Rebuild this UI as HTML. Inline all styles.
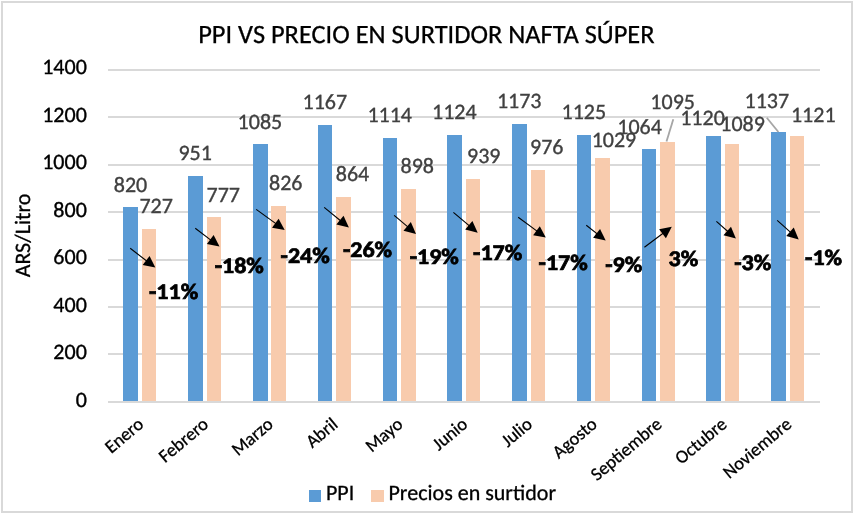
<!DOCTYPE html><html><head><meta charset="utf-8"><style>html,body{margin:0;padding:0;background:#fff;}svg{display:block;will-change:transform;}text{font-family:Carlito, 'Liberation Sans', Arial, sans-serif;text-rendering:geometricPrecision;}.dl{fill:#404040;stroke:#404040;stroke-width:0.35px;}.tk{fill:#000;stroke:#000;stroke-width:0.35px;}.bk{fill:#000;stroke:#000;stroke-width:0.3px;}</style></head><body>
<svg width="854" height="514" viewBox="0 0 854 514">
<rect x="0" y="0" width="854" height="514" fill="#fff"/>
<rect x="2" y="2" width="850" height="510" fill="none" stroke="#d9d9d9" stroke-width="2"/>
<rect x="108" y="69" width="712" height="2" fill="#d9d9d9"/>
<rect x="108" y="116" width="712" height="2" fill="#d9d9d9"/>
<rect x="108" y="164" width="712" height="2" fill="#d9d9d9"/>
<rect x="108" y="211" width="712" height="2" fill="#d9d9d9"/>
<rect x="108" y="259" width="712" height="2" fill="#d9d9d9"/>
<rect x="108" y="306" width="712" height="2" fill="#d9d9d9"/>
<rect x="108" y="353" width="712" height="2" fill="#d9d9d9"/>
<rect x="108" y="401" width="712" height="2" fill="#d9d9d9"/>
<rect x="123" y="207" width="15" height="194" fill="#5b9bd5"/>
<rect x="142" y="229" width="14" height="172" fill="#f8cbad"/>
<rect x="188" y="176" width="15" height="225" fill="#5b9bd5"/>
<rect x="207" y="217" width="14" height="184" fill="#f8cbad"/>
<rect x="253" y="144" width="15" height="257" fill="#5b9bd5"/>
<rect x="271" y="206" width="15" height="195" fill="#f8cbad"/>
<rect x="318" y="125" width="14" height="276" fill="#5b9bd5"/>
<rect x="336" y="197" width="15" height="204" fill="#f8cbad"/>
<rect x="383" y="138" width="14" height="263" fill="#5b9bd5"/>
<rect x="401" y="189" width="15" height="212" fill="#f8cbad"/>
<rect x="447" y="135" width="15" height="266" fill="#5b9bd5"/>
<rect x="466" y="179" width="14" height="222" fill="#f8cbad"/>
<rect x="512" y="124" width="15" height="277" fill="#5b9bd5"/>
<rect x="531" y="170" width="14" height="231" fill="#f8cbad"/>
<rect x="577" y="135" width="14" height="266" fill="#5b9bd5"/>
<rect x="595" y="158" width="15" height="243" fill="#f8cbad"/>
<rect x="642" y="149" width="14" height="252" fill="#5b9bd5"/>
<rect x="660" y="142" width="15" height="259" fill="#f8cbad"/>
<rect x="706" y="136" width="15" height="265" fill="#5b9bd5"/>
<rect x="725" y="144" width="14" height="257" fill="#f8cbad"/>
<rect x="771" y="132" width="15" height="269" fill="#5b9bd5"/>
<rect x="790" y="136" width="14" height="265" fill="#f8cbad"/>
<text transform="translate(86.8,74) scale(1.0,1.0)" font-size="22" text-anchor="end" class="tk" textLength="44.61" lengthAdjust="spacingAndGlyphs">1400</text>
<text transform="translate(86.8,122) scale(1.0,1.0)" font-size="22" text-anchor="end" class="tk" textLength="44.61" lengthAdjust="spacingAndGlyphs">1200</text>
<text transform="translate(86.8,169) scale(1.0,1.0)" font-size="22" text-anchor="end" class="tk" textLength="44.61" lengthAdjust="spacingAndGlyphs">1000</text>
<text transform="translate(86.8,217) scale(1.0,1.0)" font-size="22" text-anchor="end" class="tk" textLength="33.45" lengthAdjust="spacingAndGlyphs">800</text>
<text transform="translate(86.8,264) scale(1.0,1.0)" font-size="22" text-anchor="end" class="tk" textLength="33.45" lengthAdjust="spacingAndGlyphs">600</text>
<text transform="translate(86.8,311.5) scale(1.0,1.0)" font-size="22" text-anchor="end" class="tk" textLength="33.45" lengthAdjust="spacingAndGlyphs">400</text>
<text transform="translate(86.8,359) scale(1.0,1.0)" font-size="22" text-anchor="end" class="tk" textLength="33.45" lengthAdjust="spacingAndGlyphs">200</text>
<text transform="translate(86.8,407) scale(1.0,1.0)" font-size="22" text-anchor="end" class="tk" textLength="11.16" lengthAdjust="spacingAndGlyphs">0</text>
<text transform="translate(30,235.5) rotate(-90)" font-size="22" text-anchor="middle" class="bk" textLength="83.58" lengthAdjust="spacingAndGlyphs">ARS/Litro</text>
<text x="198.2" y="42.7" font-size="26.4" class="bk" textLength="456.41" lengthAdjust="spacingAndGlyphs">PPI VS PRECIO EN SURTIDOR NAFTA SÚPER</text>
<text transform="translate(144.70,426) rotate(-40)" font-size="18.4" text-anchor="end" class="bk" textLength="43.61" lengthAdjust="spacingAndGlyphs">Enero</text>
<text transform="translate(209.50,426) rotate(-40)" font-size="18.4" text-anchor="end" class="bk" textLength="58.14" lengthAdjust="spacingAndGlyphs">Febrero</text>
<text transform="translate(274.30,426) rotate(-40)" font-size="18.4" text-anchor="end" class="bk" textLength="47.52" lengthAdjust="spacingAndGlyphs">Marzo</text>
<text transform="translate(339.10,426) rotate(-40)" font-size="18.4" text-anchor="end" class="bk" textLength="35.16" lengthAdjust="spacingAndGlyphs">Abril</text>
<text transform="translate(403.90,426) rotate(-40)" font-size="18.4" text-anchor="end" class="bk" textLength="42.00" lengthAdjust="spacingAndGlyphs">Mayo</text>
<text transform="translate(468.70,426) rotate(-40)" font-size="18.4" text-anchor="end" class="bk" textLength="39.11" lengthAdjust="spacingAndGlyphs">Junio</text>
<text transform="translate(533.50,426) rotate(-40)" font-size="18.4" text-anchor="end" class="bk" textLength="33.67" lengthAdjust="spacingAndGlyphs">Julio</text>
<text transform="translate(598.30,426) rotate(-40)" font-size="18.4" text-anchor="end" class="bk" textLength="51.55" lengthAdjust="spacingAndGlyphs">Agosto</text>
<text transform="translate(663.10,426) rotate(-40)" font-size="18.4" text-anchor="end" class="bk" textLength="86.27" lengthAdjust="spacingAndGlyphs">Septiembre</text>
<text transform="translate(727.90,426) rotate(-40)" font-size="18.4" text-anchor="end" class="bk" textLength="60.77" lengthAdjust="spacingAndGlyphs">Octubre</text>
<text transform="translate(792.70,426) rotate(-40)" font-size="18.4" text-anchor="end" class="bk" textLength="82.84" lengthAdjust="spacingAndGlyphs">Noviembre</text>
<text transform="translate(130.45,192.2) scale(1.0,1.0)" font-size="22" text-anchor="middle" class="dl" textLength="33.45" lengthAdjust="spacingAndGlyphs">820</text>
<text transform="translate(156.1,212.8) scale(1.0,1.0)" font-size="22" text-anchor="middle" class="dl" textLength="33.45" lengthAdjust="spacingAndGlyphs">727</text>
<text transform="translate(195.1,160.2) scale(1.0,1.0)" font-size="22" text-anchor="middle" class="dl" textLength="33.45" lengthAdjust="spacingAndGlyphs">951</text>
<text transform="translate(223.2,201.6) scale(1.0,1.0)" font-size="22" text-anchor="middle" class="dl" textLength="33.45" lengthAdjust="spacingAndGlyphs">777</text>
<text transform="translate(259.9,129.1) scale(1.0,1.0)" font-size="22" text-anchor="middle" class="dl" textLength="44.61" lengthAdjust="spacingAndGlyphs">1085</text>
<text transform="translate(285.7,190) scale(1.0,1.0)" font-size="22" text-anchor="middle" class="dl" textLength="33.45" lengthAdjust="spacingAndGlyphs">826</text>
<text transform="translate(324.85,109.3) scale(1.0,1.0)" font-size="22" text-anchor="middle" class="dl" textLength="44.61" lengthAdjust="spacingAndGlyphs">1167</text>
<text transform="translate(352.45,181.1) scale(1.0,1.0)" font-size="22" text-anchor="middle" class="dl" textLength="33.45" lengthAdjust="spacingAndGlyphs">864</text>
<text transform="translate(389.7,122) scale(1.0,1.0)" font-size="22" text-anchor="middle" class="dl" textLength="44.61" lengthAdjust="spacingAndGlyphs">1114</text>
<text transform="translate(417.2,172.9) scale(1.0,1.0)" font-size="22" text-anchor="middle" class="dl" textLength="33.45" lengthAdjust="spacingAndGlyphs">898</text>
<text transform="translate(454.35,119.2) scale(1.0,1.0)" font-size="22" text-anchor="middle" class="dl" textLength="44.61" lengthAdjust="spacingAndGlyphs">1124</text>
<text transform="translate(483.7,162.9) scale(1.0,1.0)" font-size="22" text-anchor="middle" class="dl" textLength="33.45" lengthAdjust="spacingAndGlyphs">939</text>
<text transform="translate(519.2,108.2) scale(1.0,1.0)" font-size="22" text-anchor="middle" class="dl" textLength="44.61" lengthAdjust="spacingAndGlyphs">1173</text>
<text transform="translate(546.75,153.8) scale(1.0,1.0)" font-size="22" text-anchor="middle" class="dl" textLength="33.45" lengthAdjust="spacingAndGlyphs">976</text>
<text transform="translate(583.85,118.8) scale(1.0,1.0)" font-size="22" text-anchor="middle" class="dl" textLength="44.61" lengthAdjust="spacingAndGlyphs">1125</text>
<text transform="translate(613.95,147) scale(1.0,1.0)" font-size="22" text-anchor="middle" class="dl" textLength="44.61" lengthAdjust="spacingAndGlyphs">1029</text>
<text transform="translate(639.55,133.8) scale(1.0,1.0)" font-size="22" text-anchor="middle" class="dl" textLength="44.61" lengthAdjust="spacingAndGlyphs">1064</text>
<text transform="translate(672.65,109.3) scale(1.0,1.0)" font-size="22" text-anchor="middle" class="dl" textLength="44.61" lengthAdjust="spacingAndGlyphs">1095</text>
<text transform="translate(702.5,125.0) scale(1.0,1.0)" font-size="22" text-anchor="middle" class="dl" textLength="44.61" lengthAdjust="spacingAndGlyphs">1120</text>
<text transform="translate(742.6,130.6) scale(1.0,1.0)" font-size="22" text-anchor="middle" class="dl" textLength="44.61" lengthAdjust="spacingAndGlyphs">1089</text>
<text transform="translate(766.8,107.9) scale(1.0,1.0)" font-size="22" text-anchor="middle" class="dl" textLength="44.61" lengthAdjust="spacingAndGlyphs">1137</text>
<text transform="translate(813.25,122) scale(1.0,1.0)" font-size="22" text-anchor="middle" class="dl" textLength="44.61" lengthAdjust="spacingAndGlyphs">1121</text>
<line x1="673.3" y1="119.3" x2="666.5" y2="141.5" stroke="#a6a6a6" stroke-width="1.8"/>
<line x1="766.8" y1="117.7" x2="778.4" y2="132" stroke="#a6a6a6" stroke-width="1.8"/>
<text transform="translate(149.0,299.30) scale(1,0.93)" font-size="24" font-weight="bold" fill="#000" stroke="#000" stroke-width="0.8" textLength="49.17" lengthAdjust="spacingAndGlyphs">-11%</text>
<text transform="translate(214.7,273.20) scale(1,0.93)" font-size="24" font-weight="bold" fill="#000" stroke="#000" stroke-width="0.8" textLength="49.17" lengthAdjust="spacingAndGlyphs">-18%</text>
<text transform="translate(280.6,263.30) scale(1,0.93)" font-size="24" font-weight="bold" fill="#000" stroke="#000" stroke-width="0.8" textLength="49.17" lengthAdjust="spacingAndGlyphs">-24%</text>
<text transform="translate(342.9,256.80) scale(1,0.93)" font-size="24" font-weight="bold" fill="#000" stroke="#000" stroke-width="0.8" textLength="49.17" lengthAdjust="spacingAndGlyphs">-26%</text>
<text transform="translate(409.7,263.60) scale(1,0.93)" font-size="24" font-weight="bold" fill="#000" stroke="#000" stroke-width="0.8" textLength="49.17" lengthAdjust="spacingAndGlyphs">-19%</text>
<text transform="translate(473.1,260.20) scale(1,0.93)" font-size="24" font-weight="bold" fill="#000" stroke="#000" stroke-width="0.8" textLength="49.17" lengthAdjust="spacingAndGlyphs">-17%</text>
<text transform="translate(538.6,269.50) scale(1,0.93)" font-size="24" font-weight="bold" fill="#000" stroke="#000" stroke-width="0.8" textLength="49.17" lengthAdjust="spacingAndGlyphs">-17%</text>
<text transform="translate(605.2,272.30) scale(1,0.93)" font-size="24" font-weight="bold" fill="#000" stroke="#000" stroke-width="0.8" textLength="37.02" lengthAdjust="spacingAndGlyphs">-9%</text>
<text transform="translate(668.6,266.40) scale(1,0.93)" font-size="24" font-weight="bold" fill="#000" stroke="#000" stroke-width="0.8" textLength="29.67" lengthAdjust="spacingAndGlyphs">3%</text>
<text transform="translate(734.2,270.00) scale(1,0.93)" font-size="24" font-weight="bold" fill="#000" stroke="#000" stroke-width="0.8" textLength="37.02" lengthAdjust="spacingAndGlyphs">-3%</text>
<text transform="translate(805.1,265.20) scale(1,0.93)" font-size="24" font-weight="bold" fill="#000" stroke="#000" stroke-width="0.8" textLength="37.02" lengthAdjust="spacingAndGlyphs">-1%</text>
<line x1="130.2" y1="248.3" x2="147.69" y2="261.75" stroke="#000" stroke-width="1.1"/>
<polygon points="155.30,267.60 142.66,265.01 149.55,256.05" fill="#000"/>
<line x1="195.25" y1="228.3" x2="211.84" y2="240.82" stroke="#000" stroke-width="1.1"/>
<polygon points="219.50,246.60 206.84,244.12 213.64,235.10" fill="#000"/>
<line x1="256.2" y1="209.4" x2="276.92" y2="224.38" stroke="#000" stroke-width="1.1"/>
<polygon points="284.70,230.00 271.99,227.78 278.61,218.63" fill="#000"/>
<line x1="324.2" y1="207.3" x2="341.48" y2="221.50" stroke="#000" stroke-width="1.1"/>
<polygon points="348.90,227.60 336.35,224.60 343.53,215.87" fill="#000"/>
<line x1="394.2" y1="215.3" x2="408.70" y2="227.67" stroke="#000" stroke-width="1.1"/>
<polygon points="416.00,233.90 403.51,230.67 410.84,222.07" fill="#000"/>
<line x1="453.4" y1="212.4" x2="470.33" y2="226.55" stroke="#000" stroke-width="1.1"/>
<polygon points="477.70,232.70 465.18,229.60 472.42,220.93" fill="#000"/>
<line x1="518.2" y1="217.3" x2="538.07" y2="231.91" stroke="#000" stroke-width="1.1"/>
<polygon points="545.80,237.60 533.11,235.28 539.80,226.18" fill="#000"/>
<line x1="586.3" y1="225.3" x2="598.14" y2="234.58" stroke="#000" stroke-width="1.1"/>
<polygon points="605.70,240.50 593.08,237.79 600.05,228.90" fill="#000"/>
<line x1="644.4" y1="247.2" x2="664.11" y2="232.45" stroke="#000" stroke-width="1.1"/>
<polygon points="671.80,226.70 665.90,238.17 659.13,229.13" fill="#000"/>
<line x1="716.4" y1="221.3" x2="728.72" y2="232.23" stroke="#000" stroke-width="1.1"/>
<polygon points="735.90,238.60 723.47,235.13 730.97,226.68" fill="#000"/>
<line x1="777.2" y1="220.4" x2="791.51" y2="233.04" stroke="#000" stroke-width="1.1"/>
<polygon points="798.70,239.40 786.27,235.95 793.75,227.48" fill="#000"/>
<rect x="309" y="490" width="12" height="12" fill="#5b9bd5"/>
<text x="326" y="500.2" font-size="22" class="bk" textLength="28.28" lengthAdjust="spacingAndGlyphs">PPI</text>
<rect x="371" y="490" width="13" height="12" fill="#f8cbad"/>
<text x="388.5" y="500.2" font-size="22" class="bk" textLength="167.62" lengthAdjust="spacingAndGlyphs">Precios en surtidor</text>
</svg></body></html>
